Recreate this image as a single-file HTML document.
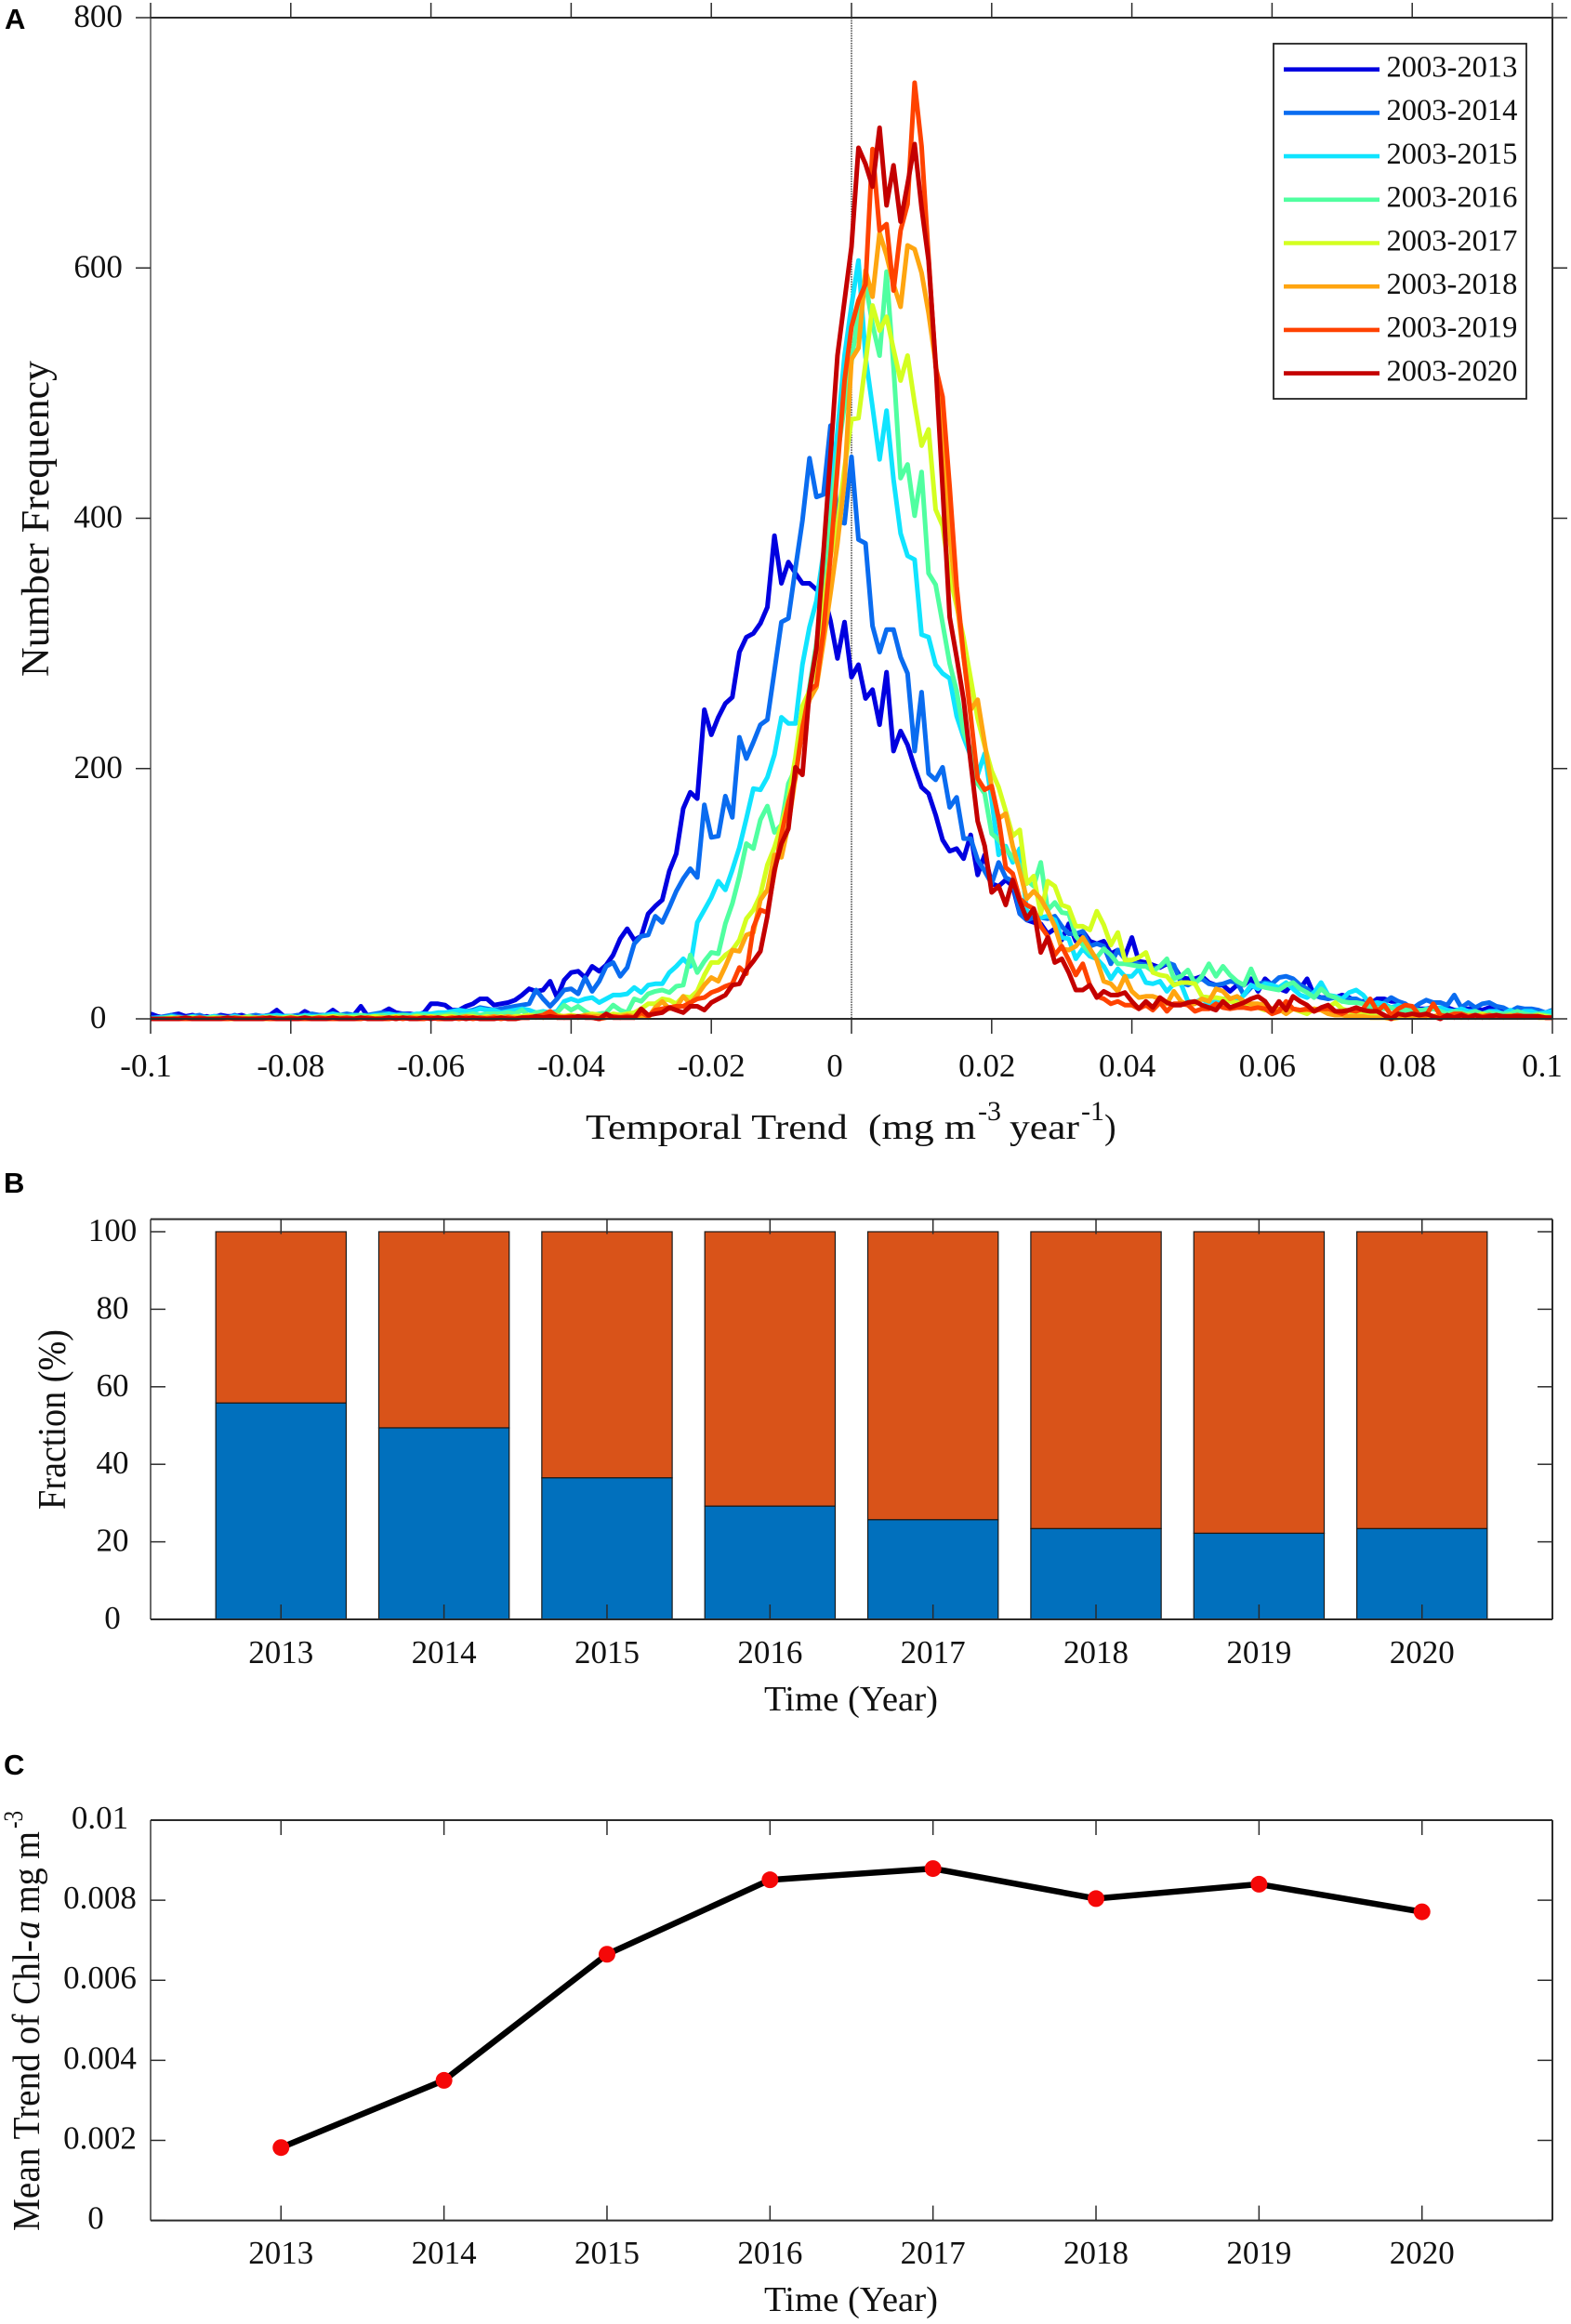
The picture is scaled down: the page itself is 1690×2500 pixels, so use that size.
<!DOCTYPE html>
<html lang="en">
<head>
<meta charset="utf-8">
<title>Temporal trend of Chl-a</title>
<style>
html,body{margin:0;padding:0;background:#fff;}
svg{display:block;}
text{font-family:"Liberation Serif",serif;fill:#111;white-space:pre;}
.panel-letter{font-family:"Liberation Sans",sans-serif;font-weight:bold;font-size:31px;fill:#000;}
</style>
</head>
<body>
<svg id="figure" xmlns="http://www.w3.org/2000/svg" width="1690" height="2500" viewBox="0 0 1690 2500">
  <rect x="0" y="0" width="1690" height="2500" fill="#fff"/>
  <g id="panel-a"></g>
  <g id="panel-b"></g>
  <g id="panel-c"></g>

  <text class="panel-letter" x="5" y="31">A</text>
  <text class="panel-letter" x="4" y="1283">B</text>
  <text class="panel-letter" x="4" y="1909">C</text>

  <text font-size="42" transform="translate(52,728) rotate(-90)" textLength="340" lengthAdjust="spacingAndGlyphs">Number Frequency</text>
  <text font-size="38"><tspan x="630" y="1225" textLength="420" lengthAdjust="spacingAndGlyphs">Temporal Trend  (mg m</tspan><tspan x="1052" y="1205" font-size="30" textLength="25" lengthAdjust="spacingAndGlyphs">-3</tspan><tspan x="1086" y="1225" textLength="75" lengthAdjust="spacingAndGlyphs">year</tspan><tspan x="1163" y="1205" font-size="30" textLength="25" lengthAdjust="spacingAndGlyphs">-1</tspan><tspan x="1188" y="1225">)</tspan></text>

  <text font-size="42" transform="translate(70,1624) rotate(-90)" textLength="194" lengthAdjust="spacingAndGlyphs">Fraction (%)</text>
  <text font-size="38" x="822" y="1840" textLength="187" lengthAdjust="spacingAndGlyphs">Time (Year)</text>

  <text font-size="41" transform="translate(42,2400) rotate(-90)"><tspan x="0" y="0" textLength="313" lengthAdjust="spacingAndGlyphs">Mean Trend of Chl-</tspan><tspan x="314" y="0" font-style="italic" textLength="20" lengthAdjust="spacingAndGlyphs">a</tspan><tspan x="342" y="0" textLength="88" lengthAdjust="spacingAndGlyphs">mg m</tspan><tspan x="433" y="-18" font-size="30" textLength="19" lengthAdjust="spacingAndGlyphs">-3</tspan></text>
  <text font-size="38" x="822" y="2486" textLength="187" lengthAdjust="spacingAndGlyphs">Time (Year)</text>
</svg>
<script>
// ---------- Panel A data (count per 0.001 bin, -0.1 to 0.1) ----------
const binStart = -0.1;
const binStep = 0.001;
const periodLabels = ["2003-2013","2003-2014","2003-2015","2003-2016","2003-2017","2003-2018","2003-2019","2003-2020"];
const xTicksA = [-0.1,-0.08,-0.06,-0.04,-0.02,0,0.02,0.04,0.06,0.08,0.1];
const yTicksA = [0,200,400,600,800];
const counts2013 = [
4,2,1,3,4,2,3,1,2,1,
3,2,2,3,1,2,2,3,7,2,
2,2,6,3,2,3,7,3,3,3,
10,2,3,5,8,5,4,4,3,5,
12,12,11,7,7,10,12,16,16,11,
12,13,15,19,24,22,23,30,17,31,
37,38,33,42,38,43,51,64,72,63,
66,84,90,95,118,132,168,181,176,247,
227,241,252,257,293,305,308,316,329,386,
348,365,356,348,348,343,340,318,288,317,
273,283,256,263,235,277,214,230,219,201,
185,180,163,143,134,136,128,147,115,131,
108,106,111,106,84,79,77,76,68,72,
63,76,62,70,62,60,62,52,55,50,
65,46,45,43,41,44,42,33,32,32,
34,29,27,27,22,27,27,32,22,32,
27,24,22,29,24,32,19,17,17,17,
19,17,14,14,12,16,16,14,14,11,
9,8,8,9,8,9,7,7,8,8,
7,9,9,8,6,7,6,7,5,4,
2];
const counts2014 = [
1,1,2,3,2,1,2,3,1,2,
2,1,3,1,2,3,2,3,1,2,
2,3,2,4,3,3,2,3,4,3,
3,3,4,5,4,3,4,3,3,4,
3,4,4,5,5,6,7,9,8,7,
8,9,10,11,12,23,16,10,16,23,
24,20,33,22,30,42,45,34,41,60,
66,67,82,77,89,102,112,120,113,171,
145,146,178,161,225,208,221,235,239,278,
317,320,360,398,448,417,419,474,398,396,
449,383,380,314,293,311,311,289,276,214,
261,196,191,201,169,177,144,144,127,118,
108,125,113,110,84,79,81,81,80,82,
74,68,68,70,58,60,58,44,55,48,
45,44,43,40,42,45,43,29,27,30,
32,28,27,28,30,29,19,25,28,29,
28,33,34,32,27,24,19,17,16,17,
14,16,16,13,12,9,13,17,14,12,
8,12,15,13,13,11,19,9,13,9,
12,13,10,9,6,9,8,8,7,5,
7];
const counts2015 = [
0,1,1,2,1,1,2,1,1,2,
1,1,2,1,2,1,2,2,3,2,
2,1,3,2,2,3,4,3,2,3,
3,2,3,3,4,3,3,3,4,4,
4,5,5,6,7,6,6,8,7,7,
5,6,7,8,7,5,6,5,6,14,
16,14,16,17,13,16,19,19,20,25,
21,27,28,28,37,42,48,42,77,87,
97,110,103,119,137,160,184,183,193,211,
241,236,236,283,313,334,372,420,469,530,
570,606,529,489,447,486,431,388,370,367,
307,305,283,276,272,242,225,210,195,212,
175,131,138,125,136,86,84,81,82,79,
65,64,48,56,50,48,42,32,40,34,
34,40,29,28,30,22,28,28,14,13,
16,12,14,16,16,14,19,27,24,28,
27,25,29,24,19,17,21,29,19,18,
16,21,23,19,12,13,12,9,11,9,
8,6,8,8,9,7,6,8,6,6,
4,6,6,4,7,4,6,6,4,5,
6];
const counts2016 = [
0,0,1,1,0,1,1,0,1,1,
1,1,1,1,2,1,1,2,1,1,
2,1,2,1,2,2,2,3,2,2,
3,2,2,3,2,2,3,2,3,3,
2,3,3,4,3,3,4,3,4,4,
4,5,4,7,2,5,5,4,5,11,
7,10,6,3,4,5,11,7,5,16,
14,20,22,23,21,26,27,51,37,46,
53,52,76,92,114,140,136,159,170,149,
155,188,200,235,265,300,345,400,450,490,
525,565,588,555,530,597,521,432,443,402,
437,356,347,316,284,262,229,215,188,180,
148,143,136,129,123,111,106,125,87,93,
85,84,66,59,53,49,56,51,44,44,
43,42,42,38,42,48,32,34,39,28,
34,44,34,42,35,30,27,40,27,25,
24,23,27,29,24,21,17,24,19,17,
14,13,13,12,9,9,8,9,6,7,
6,7,7,8,6,4,6,5,4,6,
4,5,4,4,4,6,4,3,4,3,
2];
const counts2017 = [
0,0,0,1,0,0,1,0,0,1,
0,1,0,1,1,0,1,1,0,1,
1,1,0,1,1,1,2,1,1,1,
1,1,2,1,1,2,1,1,2,1,
2,1,2,2,1,2,2,1,2,1,
2,1,2,2,3,2,1,2,3,2,
3,2,3,4,3,2,4,3,4,5,
8,12,12,16,15,12,18,17,22,35,
45,45,51,55,63,80,87,99,123,137,
155,175,209,250,262,285,330,370,395,440,
479,480,524,570,550,561,535,510,530,492,
458,471,407,394,354,330,304,272,240,218,
198,185,166,146,151,108,114,84,110,106,
91,89,74,74,71,86,75,59,69,47,
47,49,53,37,35,34,27,29,29,28,
18,17,17,16,14,13,12,12,9,7,
8,6,7,8,6,4,8,7,9,13,
8,6,4,4,3,2,2,1,1,2,
1,2,3,2,3,2,4,2,3,2,
4,2,3,2,3,1,2,2,3,2,
1];
const counts2018 = [
0,0,0,0,1,0,0,1,0,0,
1,0,0,1,0,1,0,0,1,0,
1,0,1,0,1,1,0,1,1,0,
1,1,0,1,1,0,1,1,1,1,
1,1,0,1,1,2,1,1,1,2,
1,2,1,1,2,1,2,2,1,2,
2,1,3,2,2,3,2,2,3,2,
2,1,9,14,8,9,18,12,19,27,
33,30,42,55,54,67,69,95,103,131,
129,155,193,234,255,265,301,340,380,430,
527,536,598,577,628,610,587,569,618,615,
596,564,524,470,385,335,289,247,255,220,
185,160,164,138,118,96,102,96,86,74,
56,55,58,65,56,47,30,28,22,34,
22,17,18,18,16,12,22,14,11,12,
16,14,24,22,16,18,14,12,12,11,
8,8,4,8,7,7,8,7,4,3,
3,2,2,2,1,1,1,0,1,2,
1,2,1,2,3,1,2,1,2,1,
2,1,2,1,2,3,1,2,1,1,
1];
const counts2019 = [
0,0,0,0,0,0,0,1,0,0,
0,0,1,0,0,0,1,0,0,0,
1,0,0,0,1,0,0,0,1,0,
0,1,0,0,0,1,0,1,0,0,
1,0,0,1,0,1,0,1,0,1,
0,1,0,1,1,2,3,6,2,1,
2,1,2,1,0,1,2,1,2,1,
5,2,7,8,9,10,10,13,16,17,
21,23,26,28,41,36,73,87,85,117,
147,173,193,232,262,267,310,370,440,510,
553,574,587,695,630,635,582,630,651,748,
697,609,521,497,425,346,290,242,192,183,
186,160,121,116,96,91,88,74,66,51,
58,47,35,44,27,18,16,12,14,11,
11,8,11,7,13,6,12,12,11,6,
8,8,12,9,8,9,9,8,9,8,
4,6,14,8,7,8,6,8,8,6,
4,7,6,8,16,6,11,3,8,11,
10,3,3,12,3,2,4,4,2,3,
2,3,2,2,2,3,2,2,2,1,
1];
const counts2020 = [
0,0,0,0,0,1,0,0,0,0,
0,1,0,0,0,0,0,1,0,0,
0,0,1,0,0,0,1,0,0,0,
1,0,0,0,1,0,1,0,0,1,
0,1,0,0,1,0,1,0,0,0,
1,0,0,1,1,2,1,2,1,1,
1,2,1,1,0,4,1,1,1,1,
8,3,4,5,9,7,5,10,10,7,
13,16,19,27,28,39,46,54,82,119,
140,152,201,195,262,296,372,450,530,574,
617,696,683,665,712,650,682,637,667,699,
648,606,524,424,321,289,255,205,158,138,
101,106,91,111,94,80,88,53,65,45,
48,37,23,23,27,17,22,19,19,21,
14,8,14,9,17,13,11,11,13,14,
11,9,7,14,9,11,13,16,18,14,
6,14,7,18,14,11,6,9,11,6,
6,7,9,7,6,6,3,0,4,3,
4,3,4,2,0,3,1,3,1,3,
1,2,3,2,2,2,2,2,2,1,
1];

// ---------- Panel B data ----------
const years = [2013,2014,2015,2016,2017,2018,2019,2020];
const fractionNegative = [55.8,49.4,36.5,29.2,25.7,23.4,22.2,23.4];
const fractionPositive = [44.2,50.6,63.5,70.8,74.3,76.6,77.8,76.6];
const yTicksB = [0,20,40,60,80,100];

// ---------- Panel C data ----------
const meanTrend = [0.00182,0.0035,0.00665,0.00851,0.00879,0.00804,0.0084,0.00771];
const yTicksC = [0,0.002,0.004,0.006,0.008,0.01];

// ---------- Helpers ----------
const SVG_NS = 'http://www.w3.org/2000/svg';
const AXIS_COLOR = '#2b2b2b';

function addLine(parent, x1, y1, x2, y2, name, stroke, width) {
  const el = document.createElementNS(SVG_NS, 'line');
  
  
  el.setAttribute('x1', x1);
  el.setAttribute('y1', y1);
  el.setAttribute('x2', x2);
  el.setAttribute('y2', y2);
  el.setAttribute('stroke', stroke || AXIS_COLOR);
  el.setAttribute('stroke-width', width || 1.5);
  parent.appendChild(el);
  return el;
}
function addText(parent, x, y, content, name, anchor, size) {
  const el = document.createElementNS(SVG_NS, 'text');
  
  
  el.setAttribute('x', x);
  el.setAttribute('y', y);
  el.setAttribute('text-anchor', anchor || 'middle');
  el.setAttribute('font-size', size || 35);
  el.textContent = content;
  parent.appendChild(el);
  return el;
}
function addRect(parent, x, y, w, h, name, fill, stroke, width) {
  const el = document.createElementNS(SVG_NS, 'rect');
  
  
  el.setAttribute('x', x);
  el.setAttribute('y', y);
  el.setAttribute('width', w);
  el.setAttribute('height', h);
  el.setAttribute('fill', fill);
  el.setAttribute('stroke', stroke);
  el.setAttribute('stroke-width', width);
  parent.appendChild(el);
  return el;
}
function linear(d0, d1, r0, r1) {
  return function (v) { return r0 + (v - d0) * (r1 - r0) / (d1 - d0); };
}

// ---------- Panel A ----------
(function () {
  const g = document.getElementById('panel-a');
  const L = 162, R = 1670, T = 19, B = 1096, tick = 16;
  const x = linear(-0.1, 0.1, L, R);
  const y = linear(0, 800, B, T);
  const colors = ['#0000e0','#0a6cf0','#10e4ff','#50ffa0','#d4ff20','#ffa510','#ff4200','#c40000'];
  const allCounts = [counts2013,counts2014,counts2015,counts2016,counts2017,counts2018,counts2019,counts2020];

  const zero = addLine(g, x(0), T, x(0), B, 'zero-reference-line', '#333', 1.4);
  zero.setAttribute('stroke-dasharray', '1.5 1.2');

  allCounts.forEach(function (series, s) {
    const pts = series.map(function (c, i) {
      return x(binStart + i * binStep).toFixed(1) + ',' + y(c).toFixed(1);
    }).join(' ');
    const line = document.createElementNS(SVG_NS, 'polyline');
    
    
    line.setAttribute('points', pts);
    line.setAttribute('fill', 'none');
    line.setAttribute('stroke', colors[s]);
    line.setAttribute('stroke-width', 5);
    line.setAttribute('stroke-linejoin', 'round');
    g.appendChild(line);
  });

  addLine(g, L, T, R, T, 'panel-a-top-axis', AXIS_COLOR, 2);
  addLine(g, L, B, R, B, 'panel-a-bottom-axis', AXIS_COLOR, 2);
  addLine(g, L, T, L, B, 'panel-a-left-axis', AXIS_COLOR, 1.2);
  addLine(g, R, T, R, B, 'panel-a-right-axis', AXIS_COLOR, 2);

  function nudge(v) {
    if (v === 0) return -18;
    if (v === -0.1) return -5;
    if (v === 0.1) return -11;
    return v > 0 ? -5 : 0;
  }
  xTicksA.forEach(function (v) {
    addLine(g, x(v), T - tick, x(v), T, 'panel-a-top-tick');
    addLine(g, x(v), B, x(v), B + tick, 'panel-a-x-tick');
    addText(g, x(v) + nudge(v), 1158, String(v), 'panel-a-x-tick-label');
  });
  yTicksA.forEach(function (v) {
    addLine(g, L - tick, y(v), L, y(v), 'panel-a-y-tick');
    addLine(g, R, y(v), R + tick, y(v), 'panel-a-right-tick');
    addText(g, 105.6, y(v) + 10, String(v), 'panel-a-y-tick-label');
  });

  const legend = document.createElementNS(SVG_NS, 'g');
  
  
  g.appendChild(legend);
  addRect(legend, 1370, 47, 272, 382, 'legend-box', '#fff', '#222', 1.8);
  periodLabels.forEach(function (label, s) {
    const ly = 74.7 + s * 46.7;
    addLine(legend, 1381, ly, 1484, ly, 'legend-line-' + label, colors[s], 4.6);
    addText(legend, 1491.5, ly + 7.8, label, 'legend-entry-' + label, 'start', 32.5);
  });
})();

// ---------- Panel B ----------
(function () {
  const g = document.getElementById('panel-b');
  const L = 162, R = 1670, T = 1311.5, B = 1742, tick = 16;
  const x = linear(2012.2, 2020.8, L, R);
  const y = linear(0, 100, B, 1325);
  const barHalf = 0.4;
  years.forEach(function (yr, i) {
    const x0 = x(yr - barHalf), w = x(yr + barHalf) - x0;
    const neg = fractionNegative[i], pos = fractionPositive[i];
    addRect(g, x0, y(neg + pos), w, y(neg) - y(neg + pos), 'bar-positive-' + yr, '#d95319', '#1a1a1a', 1.2);
    addRect(g, x0, y(neg), w, y(0) - y(neg), 'bar-negative-' + yr, '#0170bd', '#1a1a1a', 1.2);
  });
  addLine(g, L, T, R, T, 'panel-b-top-axis', AXIS_COLOR, 2);
  addLine(g, L, B, R, B, 'panel-b-bottom-axis', AXIS_COLOR, 2);
  addLine(g, L, T, L, B, 'panel-b-left-axis', AXIS_COLOR, 1.4);
  addLine(g, R, T, R, B, 'panel-b-right-axis', AXIS_COLOR, 2);
  years.forEach(function (yr) {
    addLine(g, x(yr), T, x(yr), T + tick, 'panel-b-top-tick');
    addLine(g, x(yr), B - tick, x(yr), B, 'panel-b-x-tick');
    addText(g, x(yr), 1789, String(yr), 'panel-b-x-tick-label');
  });
  yTicksB.forEach(function (v) {
    addLine(g, L, y(v), L + tick, y(v), 'panel-b-y-tick');
    addLine(g, R - tick, y(v), R, y(v), 'panel-b-right-tick');
    addText(g, 121, y(v) + 10, String(v), 'panel-b-y-tick-label');
  });
})();

// ---------- Panel C ----------
(function () {
  const g = document.getElementById('panel-c');
  const L = 162, R = 1670, T = 1958, B = 2388.6, tick = 16;
  const x = linear(2012.2, 2020.8, L, R);
  const y = linear(0, 0.01, B, T);
  addLine(g, L, T, R, T, 'panel-c-top-axis', AXIS_COLOR, 2);
  addLine(g, L, B, R, B, 'panel-c-bottom-axis', AXIS_COLOR, 2);
  addLine(g, L, T, L, B, 'panel-c-left-axis', AXIS_COLOR, 1.4);
  addLine(g, R, T, R, B, 'panel-c-right-axis', AXIS_COLOR, 2);
  years.forEach(function (yr) {
    addLine(g, x(yr), T, x(yr), T + tick, 'panel-c-top-tick');
    addLine(g, x(yr), B - tick, x(yr), B, 'panel-c-x-tick');
    addText(g, x(yr), 2435, String(yr), 'panel-c-x-tick-label');
  });
  yTicksC.forEach(function (v) {
    addLine(g, L, y(v), L + tick, y(v), 'panel-c-y-tick');
    addLine(g, R - tick, y(v), R, y(v), 'panel-c-right-tick');
    addText(g, v === 0 ? 103 : 107.5, y(v) + 9, String(v), 'panel-c-y-tick-label');
  });
  const line = document.createElementNS(SVG_NS, 'polyline');
  
  
  line.setAttribute('points', years.map(function (yr, i) {
    return x(yr).toFixed(1) + ',' + y(meanTrend[i]).toFixed(1);
  }).join(' '));
  line.setAttribute('fill', 'none');
  line.setAttribute('stroke', '#000');
  line.setAttribute('stroke-width', 6.5);
  line.setAttribute('stroke-linejoin', 'round');
  g.appendChild(line);
  years.forEach(function (yr, i) {
    const dot = document.createElementNS(SVG_NS, 'circle');
    
    
    dot.setAttribute('cx', x(yr));
    dot.setAttribute('cy', y(meanTrend[i]));
    dot.setAttribute('r', 9);
    dot.setAttribute('fill', '#f50808');
    g.appendChild(dot);
  });
})();
</script>
</body>
</html>
